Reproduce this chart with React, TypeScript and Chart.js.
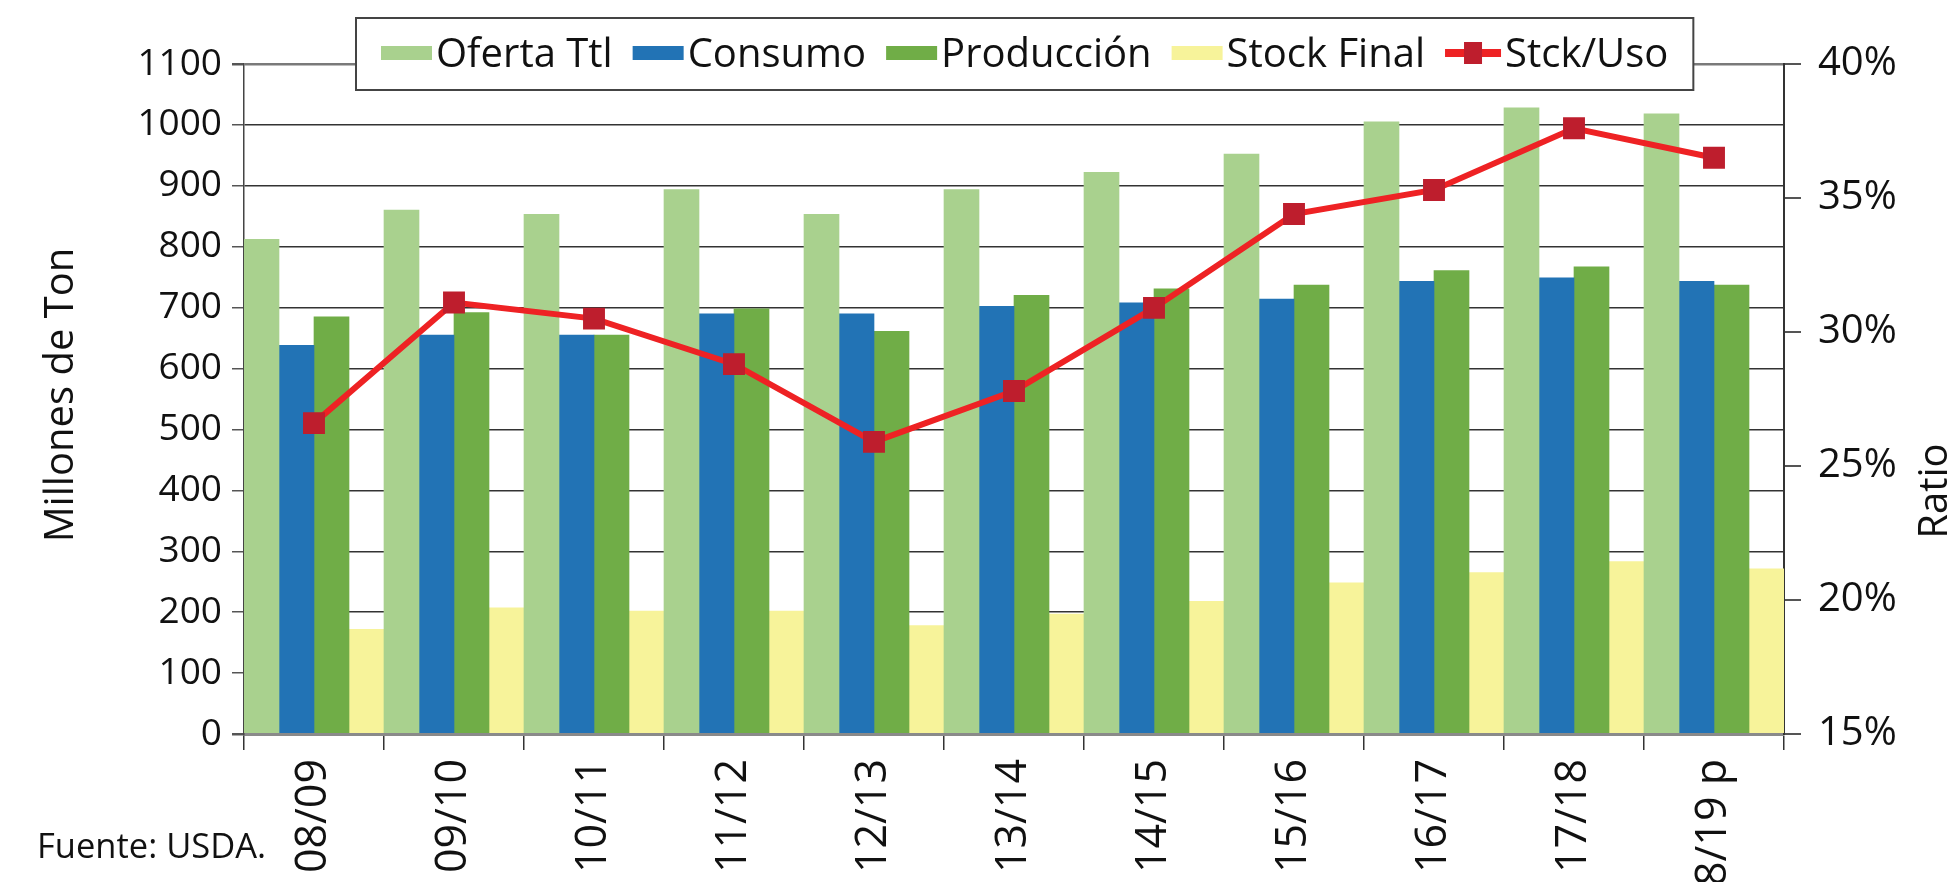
import React, { useEffect, useRef } from "react";
import { Chart, registerables } from "chart.js";

Chart.register(...registerables);

const categories = ["08/09", "09/10", "10/11", "11/12", "12/13", "13/14", "14/15", "15/16", "16/17", "17/18", "18/19 p"];
const ofertaTtl = [812, 860, 853, 894, 853, 894, 922, 952, 1005, 1028, 1018];
const consumo = [638, 655, 655, 690, 690, 702, 708, 714, 743, 749, 743];
const produccion = [685, 692, 655, 698, 661, 720, 731, 737, 761, 767, 737];
const stockFinal = [172, 207, 202, 202, 178, 197, 218, 248, 265, 283, 271];
const stckUso = [26.6, 31.1, 30.5, 28.8, 25.9, 27.8, 30.9, 34.4, 35.3, 37.6, 36.5];

const leftTicks = { min: 0, max: 1100, step: 100 };
const rightTicks = { min: 15, max: 40, step: 5 };

const FONT = "'Open Sans', sans-serif";

const overlayPlugin = {
  id: "overlay",
  afterDraw(chart: any) {
    const ctx = chart.ctx;
    const area = chart.chartArea;
    ctx.save();
    ctx.fillStyle = "#111";
    ctx.font = `40px ${FONT}`;
    ctx.textAlign = "center";
    ctx.textBaseline = "middle";
    ctx.save();
    ctx.translate(62, (area.top + area.bottom) / 2 - 4);
    ctx.rotate(-Math.PI / 2);
    ctx.fillText("Millones de Ton", 0, 0);
    ctx.restore();
    ctx.save();
    ctx.translate(1936, 491);
    ctx.rotate(-Math.PI / 2);
    ctx.fillText("Ratio", 0, 0);
    ctx.restore();
    ctx.font = `34.5px ${FONT}`;
    ctx.textAlign = "left";
    ctx.textBaseline = "alphabetic";
    ctx.fillText("Fuente: USDA.", 37, 858);

    // Legend
    ctx.font = `40px ${FONT}`;
    const ds = chart.data.datasets;
    const boxW = 51;
    const gapBoxText = 4;
    const gapItems = 20;
    const padX = 25;
    let total = 0;
    ds.forEach((d: any, i: number) => {
      total += (d.type === "line" ? 56 : boxW) + gapBoxText + ctx.measureText(d.label).width;
      if (i < ds.length - 1) total += gapItems;
    });
    const lw = total + padX * 2;
    const lx = 356;
    const ly = 18;
    const lh = 72;
    ctx.fillStyle = "#ffffff";
    ctx.fillRect(lx, ly, lw, lh);
    ctx.strokeStyle = "#444";
    ctx.lineWidth = 2;
    ctx.strokeRect(lx, ly, lw, lh);
    let x = lx + padX;
    const cy = ly + lh / 2 + 1;
    ds.forEach((d: any) => {
      if (d.type === "line") {
        ctx.strokeStyle = d.borderColor;
        ctx.lineWidth = 8;
        ctx.beginPath();
        ctx.moveTo(x, cy - 2);
        ctx.lineTo(x + 56, cy - 2);
        ctx.stroke();
        ctx.fillStyle = d.pointBackgroundColor;
        ctx.fillRect(x + 28 - 9, cy - 2 - 11, 18, 22);
        x += 56;
      } else {
        ctx.fillStyle = d.backgroundColor;
        ctx.fillRect(x, cy - 9, boxW, 14);
        x += boxW;
      }
      x += gapBoxText;
      ctx.fillStyle = "#111";
      ctx.textBaseline = "middle";
      ctx.textAlign = "left";
      ctx.fillText(d.label, x, cy + 1);
      x += ctx.measureText(d.label).width + gapItems;
    });
    ctx.restore();
  },
};

export default function App() {
  const ref = useRef<HTMLCanvasElement | null>(null);
  useEffect(() => {
    document.body.style.margin = "0";
    const canvas = ref.current;
    if (!canvas) return;
    const chart = new Chart(canvas, {
      type: "bar",
      data: {
        labels: categories,
        datasets: [
          { type: "bar", label: "Oferta Ttl", data: ofertaTtl, backgroundColor: "#A9D18E", yAxisID: "y", order: 1, categoryPercentage: 1, barPercentage: 1 },
          { type: "bar", label: "Consumo", data: consumo, backgroundColor: "#2273B5", yAxisID: "y", order: 1, categoryPercentage: 1, barPercentage: 1 },
          { type: "bar", label: "Producción", data: produccion, backgroundColor: "#70AD47", yAxisID: "y", order: 1, categoryPercentage: 1, barPercentage: 1 },
          { type: "bar", label: "Stock Final", data: stockFinal, backgroundColor: "#F7F39A", yAxisID: "y", order: 1, categoryPercentage: 1, barPercentage: 1 },
          {
            type: "line",
            label: "Stck/Uso",
            data: stckUso,
            yAxisID: "y1",
            order: 0,
            borderColor: "#EE2224",
            borderWidth: 6,
            pointStyle: "rect",
            pointRadius: 15.5,
            pointBackgroundColor: "#BE1E2D",
            pointBorderColor: "#BE1E2D",
            pointBorderWidth: 0,
            tension: 0,
          },
        ] as any,
      },
      options: {
        responsive: false,
        animation: false,
        layout: { padding: { top: 64, left: 0, right: 0, bottom: 0 } },
        plugins: { legend: { display: false }, tooltip: { enabled: false } },
        scales: {
          x: {
            offset: true,
            grid: { offset: true, drawOnChartArea: false, tickLength: 16, color: "#333", lineWidth: 1.5 },
            border: { color: "#8a8a8a", width: 3 },
            ticks: { autoSkip: false, minRotation: 90, maxRotation: 90, padding: 9, color: "#111", font: { family: FONT, size: 43 } },
            afterFit: (s: any) => { s.height = 148; },
          },
          y: {
            position: "left",
            min: leftTicks.min,
            max: leftTicks.max,
            ticks: { stepSize: leftTicks.step, padding: 10, color: "#111", font: { family: FONT, size: 37 }, callback: (v: any) => String(v) },
            grid: {
              tickLength: 12,
              color: (c: any) => (c.tick && (c.tick.value === 1100 || c.tick.value === 0) ? "#7a7a7a" : "#333"),
              lineWidth: (c: any) => (c.tick && (c.tick.value === 1100 || c.tick.value === 0) ? 2.5 : 1.5),
              tickColor: "#555",
            },
            border: { color: "#444", width: 1.5 },
            afterFit: (s: any) => { s.width = 244; },
          },
          y1: {
            position: "right",
            min: rightTicks.min,
            max: rightTicks.max,
            ticks: { stepSize: rightTicks.step, padding: 17, color: "#111", font: { family: FONT, size: 40 }, callback: (v: any) => `${v}%` },
            grid: { drawOnChartArea: false, tickLength: 17, color: "#555", lineWidth: 2 },
            border: { color: "#333", width: 2 },
            afterFit: (s: any) => { s.width = 176; },
          },
        },
      },
      plugins: [overlayPlugin],
    } as any);
    return () => chart.destroy();
  }, []);
  return (
    <div style={{ position: "fixed", left: 0, top: 0, width: 1960, height: 882, background: "#fff" }}>
      <canvas ref={ref} width={1960} height={882} style={{ display: "block" }} />
    </div>
  );
}
